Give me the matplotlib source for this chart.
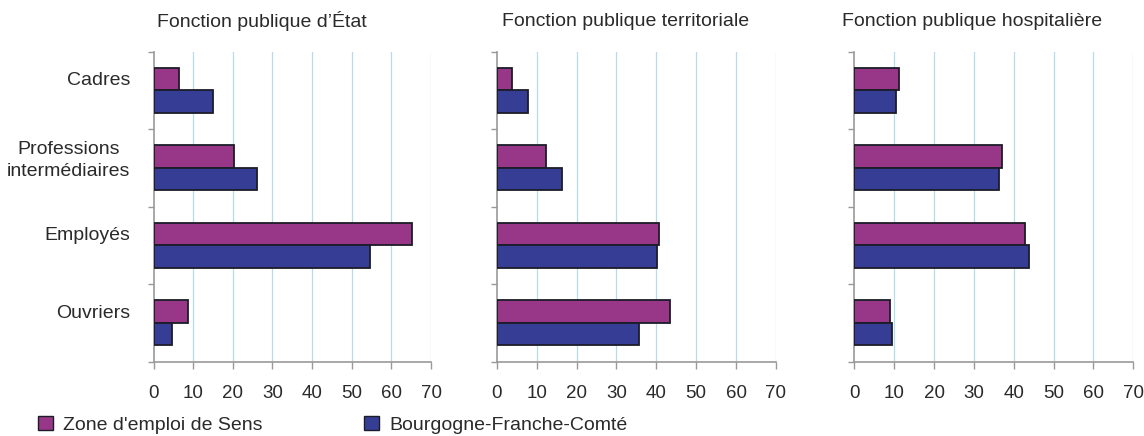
import matplotlib
matplotlib.use("Agg")
import matplotlib.pyplot as plt
from matplotlib.patches import Patch
import numpy as np

plt.rcParams['font.family'] = ['Liberation Sans', 'DejaVu Sans']

categories = ["Cadres", "Professions\nintermédiaires", "Employés", "Ouvriers"]
panels = ["Fonction publique d’État", "Fonction publique territoriale", "Fonction publique hospitalière"]
series_names = ["Zone d'emploi de Sens", "Bourgogne-Franche-Comté"]
sens_values = [
    [6.4, 20.2, 65.2, 8.8],
    [3.8, 12.3, 40.7, 43.4],
    [11.3, 37.1, 42.9, 9.0],
]
bfc_values = [
    [15.1, 26.0, 54.7, 4.7],
    [7.8, 16.4, 40.3, 35.7],
    [10.4, 36.2, 43.8, 9.5],
]
xticks = [0, 10, 20, 30, 40, 50, 60, 70]

purple = "#983787"
blue = "#363D95"
edge = "#1c1c28"
grid_c = "#b5dde8"
spine_c = "#999999"
text_c = "#2a2a2a"

fig = plt.figure(figsize=(11.44, 4.36), dpi=100)
W, H = 1144, 436
lefts = [153.5, 496.7, 854.3]
rights = [431, 776, 1133.3]
top_px, bot_px = 51.7, 361.7
title_x = [157, 501.5, 842]

y = np.arange(len(categories))
bh = 0.29
label_lift = 0.148  # labels sit slightly above the band centre, as in the reference
for i in range(3):
    ax = fig.add_axes([lefts[i] / W, 1 - bot_px / H, (rights[i] - lefts[i]) / W, (bot_px - top_px) / H])
    ax.set_xlim(0, 70)
    ax.set_ylim(len(categories) - 0.5, -0.5)
    ax.barh(y - bh / 2, sens_values[i], height=bh, color=purple, edgecolor=edge, linewidth=1.3, zorder=3)
    ax.barh(y + bh / 2, bfc_values[i], height=bh, color=blue, edgecolor=edge, linewidth=1.3, zorder=3)
    ax.set_xticks(xticks)
    ax.set_xticklabels([str(t) for t in xticks], fontsize=13.5, color=text_c)
    for t in xticks[1:]:
        ax.axvline(t, color=grid_c, linewidth=0.9, zorder=1)
    ax.set_yticks(np.arange(-0.5, len(categories), 1.0))
    ax.set_yticklabels([])
    ax.set_yticks(y - label_lift, minor=True)
    if i == 0:
        ax.set_yticklabels(categories, minor=True, fontsize=14, multialignment='center',
                           linespacing=1.35, color=text_c)
    else:
        ax.set_yticklabels([], minor=True)
    ax.tick_params(axis='y', which='minor', length=0, pad=16.5)
    ax.tick_params(axis='y', which='major', length=4, color=spine_c, width=1)
    ax.tick_params(axis='x', length=5, color=spine_c, width=1, pad=12)
    for s in ['top', 'right']:
        ax.spines[s].set_visible(False)
    for s in ['left', 'bottom']:
        ax.spines[s].set_color(spine_c)
        ax.spines[s].set_linewidth(1.2)
    fig.text(title_x[i] / W, 1 - 21 / H, panels[i], fontsize=14, ha='left', va='center', color=text_c)

handles = [Patch(facecolor=purple, edgecolor=edge, linewidth=1.0),
           Patch(facecolor=blue, edgecolor=edge, linewidth=1.0)]
fig.legend(handles, series_names, loc='center left', bbox_to_anchor=(26.5 / W, 1 - 425 / H),
           ncol=2, frameon=False, fontsize=14, handlelength=0.75, handleheight=0.75,
           handletextpad=0.55, columnspacing=5.2, labelcolor=text_c, borderpad=0.1)

fig.savefig("out.png", dpi=100)
